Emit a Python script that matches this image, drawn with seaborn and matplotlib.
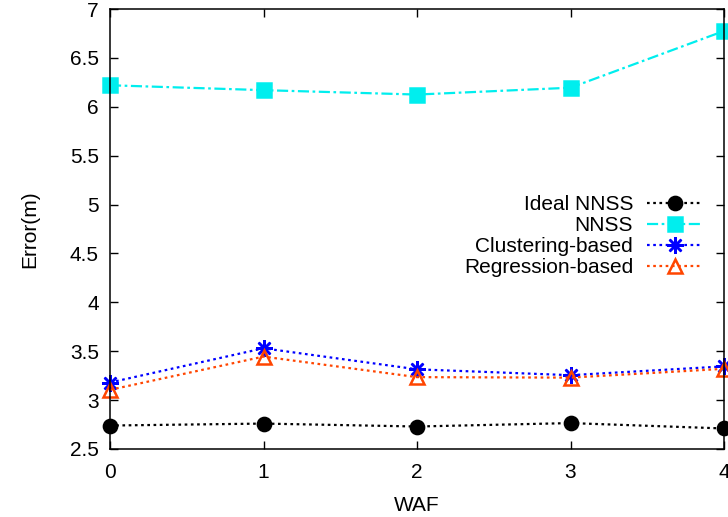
import matplotlib
matplotlib.use("Agg")
import matplotlib.pyplot as plt
import seaborn as sns
import pandas as pd
from matplotlib.ticker import MultipleLocator

waf = [0, 1, 2, 3, 4]
ideal_nnss = [2.74, 2.76, 2.73, 2.765, 2.71]
nnss = [6.22, 6.17, 6.125, 6.195, 6.775]
clustering = [3.18, 3.53, 3.315, 3.255, 3.345]
regression = [3.105, 3.445, 3.235, 3.23, 3.32]
labels = ["Ideal NNSS", "NNSS", "Clustering-based", "Regression-based"]

sns.set_style("ticks")
plt.rcParams["font.family"] = ["Liberation Sans", "DejaVu Sans"]
for k in ["text.color", "axes.labelcolor", "xtick.color", "ytick.color", "axes.edgecolor"]:
    plt.rcParams[k] = "black"

fig = plt.figure(figsize=(7.28, 5.17), dpi=100)
ax = fig.add_axes([110/728, 68/517, 614/728, 440/517])

series = [
    (ideal_nnss, labels[0], "black", "o", (0, (1.2, 1.6)), 9.5, "black"),
    (nnss, labels[1], "#00eeee", "s", (0, (5, 1.6, 1.2, 1.6)), 10, "#00eeee"),
    (clustering, labels[2], "blue", (8, 2, 0), (0, (1.2, 1.6)), 12, "blue"),
    (regression, labels[3], "#ff4500", "^", (0, (1.2, 1.6)), 10.5, "none"),
]

for vals, lab, col, mk, ls, ms, fc in series:
    df = pd.DataFrame({"WAF": waf, "Error": vals})
    sns.lineplot(data=df, x="WAF", y="Error", ax=ax, color=col, marker=mk,
                 linestyle=ls, linewidth=1.6, markersize=ms,
                 markerfacecolor=fc, markeredgecolor=col,
                 markeredgewidth=1.8, label=lab, clip_on=False)

for line in ax.get_lines():
    line.set_clip_on(False)

ax.set_xlim(0, 4)
ax.set_ylim(2.5, 7)
ax.xaxis.set_major_locator(MultipleLocator(1))
ax.yaxis.set_major_locator(MultipleLocator(0.5))
ax.set_yticklabels([f"{v:g}" for v in ax.get_yticks()])
ax.tick_params(direction="in", top=True, right=True, length=6, width=1,
               labelsize=15, colors="black")
ax.tick_params(axis="x", pad=10)
ax.tick_params(axis="y", pad=8)
for s in ax.spines.values():
    s.set_linewidth(1.1)
    s.set_color("black")
ax.set_xlabel("WAF", fontsize=15, labelpad=10)
ax.set_ylabel("Error(m)", fontsize=15, labelpad=22)

h, l = ax.get_legend_handles_labels()
leg = ax.legend(h, l, loc="upper right", bbox_to_anchor=(703/728, 1 - 195/517),
                bbox_transform=fig.transFigure, frameon=False, markerfirst=False,
                fontsize=15, handlelength=2.7, handletextpad=0.65,
                labelspacing=0.1, borderpad=0, borderaxespad=0, numpoints=1)
for t in leg.get_texts():
    t.set_ha("right")
leg._legend_box.align = "right"
for vp in leg._legend_box.get_children()[1].get_children():
    vp.align = "right"

fig.savefig("out.png", dpi=100)
